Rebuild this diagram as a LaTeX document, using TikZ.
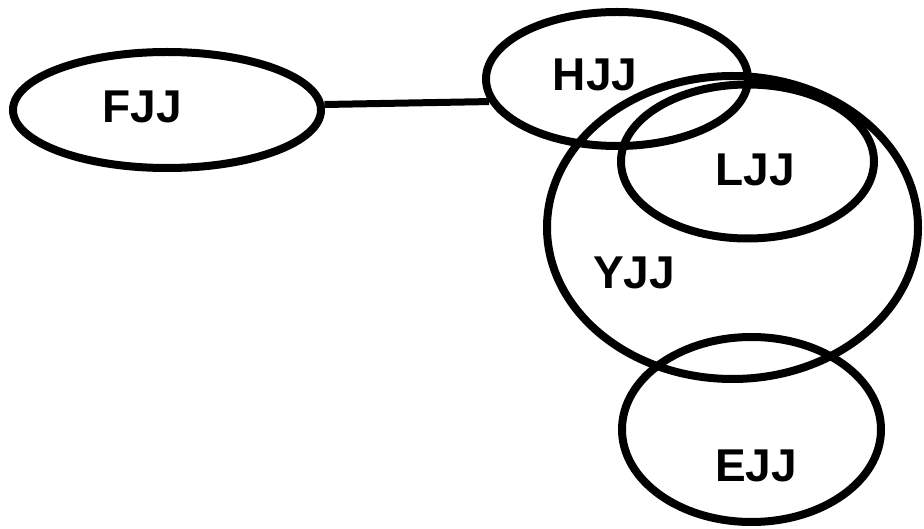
\documentclass[tikz,border=0pt]{standalone}
\usepackage{fontspec}
\setmainfont{Liberation Sans}
\usetikzlibrary{shapes.geometric}
\begin{document}
\begin{tikzpicture}[x=1pt,y=-1pt,
  blob/.style={draw=black,line width=8pt,ellipse,inner sep=0pt,
    minimum width=#1},
  lbl/.style={font=\fontsize{46}{50}\selectfont\bfseries,inner sep=0pt,anchor=center}]
\useasboundingbox (0,0) rectangle (924,529);
% ellipses: centre, width, height
\node[blob=308pt,minimum height=116pt] (fjj) at (167,110) {};
\node[blob=262pt,minimum height=134pt] (hjj) at (617,79) {};
\node[blob=371pt,minimum height=303pt] (yjj) at (732.5,227.5) {};
\node[blob=253pt,minimum height=154pt] (ljj) at (747.5,161.5) {};
\node[blob=259pt,minimum height=185pt] (ejj) at (751.5,429.5) {};
% labels
\node[lbl] (tf) at (142,107) {FJJ};
\node[lbl] (th) at (595,75) {HJJ};
\node[lbl] (tl) at (755,170) {LJJ};
\node[lbl] (ty) at (634,273) {YJJ};
\node[lbl] (te) at (756,466) {EJJ};
% connector
\draw[line width=7pt] (fjj.2) -- (hjj.190);
\end{tikzpicture}
\end{document}
